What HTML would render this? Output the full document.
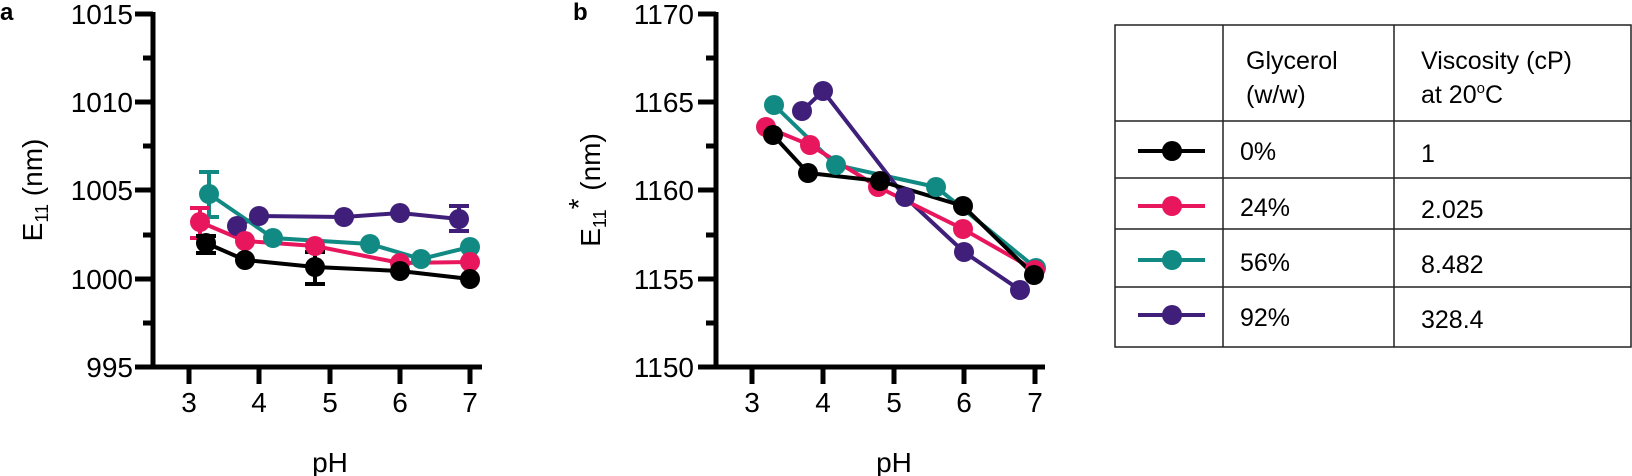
<!DOCTYPE html>
<html><head><meta charset="utf-8"><style>
html,body{margin:0;padding:0;background:#fff;}
svg{display:block;font-family:"Liberation Sans",Arial,sans-serif;}
</style></head><body>
<svg width="1632" height="476" viewBox="0 0 1632 476" xmlns="http://www.w3.org/2000/svg">
<!-- Panel a -->
<text x="0" y="20" font-size="24" font-weight="bold">a</text>
<g stroke="#000" stroke-width="5" fill="none">
<line x1="153" y1="12" x2="153" y2="369"/>
<line x1="151" y1="367" x2="482" y2="367"/>
<line x1="135" y1="14" x2="153" y2="14"/>
<line x1="143" y1="58" x2="153" y2="58"/>
<line x1="135" y1="102" x2="153" y2="102"/>
<line x1="143" y1="146" x2="153" y2="146"/>
<line x1="135" y1="190" x2="153" y2="190"/>
<line x1="143" y1="235" x2="153" y2="235"/>
<line x1="135" y1="279" x2="153" y2="279"/>
<line x1="143" y1="323" x2="153" y2="323"/>
<line x1="135" y1="367" x2="153" y2="367"/>
<line x1="189" y1="367" x2="189" y2="384"/>
<line x1="259" y1="367" x2="259" y2="384"/>
<line x1="330" y1="367" x2="330" y2="384"/>
<line x1="400" y1="367" x2="400" y2="384"/>
<line x1="470" y1="367" x2="470" y2="384"/>
</g>
<g font-size="28" text-anchor="end">
<text x="133" y="24">1015</text>
<text x="133" y="112">1010</text>
<text x="133" y="200">1005</text>
<text x="133" y="289">1000</text>
<text x="133" y="377">995</text>
</g>
<g font-size="28" text-anchor="middle">
<text x="189" y="412">3</text><text x="259" y="412">4</text><text x="330" y="412">5</text><text x="400" y="412">6</text><text x="470" y="412">7</text>
<text x="330" y="472">pH</text>
</g>
<text transform="translate(42,190) rotate(-90)" font-size="28" text-anchor="middle">E<tspan font-size="18" dy="6">11</tspan><tspan dy="-6"> (nm)</tspan></text>
<!-- error bars a -->
<g stroke-width="4" fill="none">
<path d="M209 172V217M199 172H219M199 217H219" stroke="#128a84"/>
<path d="M200 208V238M190 208H210M190 238H210" stroke="#e8175d"/>
<path d="M206 236V253M196 236H216M196 253H216" stroke="#000"/>
<path d="M315 252V284M305 252H325M305 284H325" stroke="#000"/>
<path d="M459 206V231M449 206H469M449 231H469" stroke="#3f1f7a"/>
</g>
<g stroke-width="4" fill="none">
<polyline points="237,226 259,216 344,217 400,213 459,219" stroke="#3f1f7a"/>
<polyline points="209,194 273,238 370,244 421,259 470,247" stroke="#128a84"/>
<polyline points="200,222 245,241 315,246 400,263 470,262" stroke="#e8175d"/>
<polyline points="206,243 245,260 315,267 400,271 470,279" stroke="#000"/>
</g>
<g fill="#3f1f7a"><circle cx="237" cy="226" r="10"/><circle cx="259" cy="216" r="10"/><circle cx="344" cy="217" r="10"/><circle cx="400" cy="213" r="10"/><circle cx="459" cy="219" r="10"/></g>
<g fill="#128a84"><circle cx="209" cy="194" r="10"/><circle cx="273" cy="238" r="10"/><circle cx="370" cy="244" r="10"/><circle cx="421" cy="259" r="10"/><circle cx="470" cy="247" r="10"/></g>
<g fill="#e8175d"><circle cx="200" cy="222" r="10"/><circle cx="245" cy="241" r="10"/><circle cx="315" cy="246" r="10"/><circle cx="400" cy="263" r="10"/><circle cx="470" cy="262" r="10"/></g>
<g fill="#000"><circle cx="206" cy="243" r="10"/><circle cx="245" cy="260" r="10"/><circle cx="315" cy="267" r="10"/><circle cx="400" cy="271" r="10"/><circle cx="470" cy="279" r="10"/></g>

<!-- Panel b -->
<text x="573" y="20" font-size="24" font-weight="bold">b</text>
<g stroke="#000" stroke-width="5" fill="none">
<line x1="716" y1="12" x2="716" y2="369"/>
<line x1="714" y1="367" x2="1045" y2="367"/>
<line x1="698" y1="14" x2="716" y2="14"/>
<line x1="706" y1="58" x2="716" y2="58"/>
<line x1="698" y1="102" x2="716" y2="102"/>
<line x1="706" y1="146" x2="716" y2="146"/>
<line x1="698" y1="190" x2="716" y2="190"/>
<line x1="706" y1="235" x2="716" y2="235"/>
<line x1="698" y1="279" x2="716" y2="279"/>
<line x1="706" y1="323" x2="716" y2="323"/>
<line x1="698" y1="367" x2="716" y2="367"/>
<line x1="752" y1="367" x2="752" y2="384"/>
<line x1="823" y1="367" x2="823" y2="384"/>
<line x1="894" y1="367" x2="894" y2="384"/>
<line x1="964" y1="367" x2="964" y2="384"/>
<line x1="1035" y1="367" x2="1035" y2="384"/>
</g>
<g font-size="28" text-anchor="end">
<text x="694" y="24">1170</text>
<text x="694" y="112">1165</text>
<text x="694" y="200">1160</text>
<text x="694" y="289">1155</text>
<text x="694" y="377">1150</text>
</g>
<g font-size="28" text-anchor="middle">
<text x="752" y="412">3</text><text x="823" y="412">4</text><text x="894" y="412">5</text><text x="964" y="412">6</text><text x="1035" y="412">7</text>
<text x="894" y="472">pH</text>
</g>
<text transform="translate(600,190) rotate(-90)" font-size="28" text-anchor="middle">E<tspan font-size="18" dy="6">11</tspan><tspan dy="-18">*</tspan><tspan dy="12"> (nm)</tspan></text>
<g stroke-width="4" fill="none">
<polyline points="774,105 836,165 936,187 1036,268" stroke="#128a84"/>
<polyline points="802,111 823,91 905,197 964,252 1020,290" stroke="#3f1f7a"/>
<polyline points="766,127 810,145 878,187 963,229 1035,270" stroke="#e8175d"/>
<polyline points="773,135 808,173 880,181 963,206 1034,275" stroke="#000"/>
</g>
<g fill="#128a84"><circle cx="774" cy="105" r="10"/><circle cx="836" cy="165" r="10"/><circle cx="936" cy="187" r="10"/><circle cx="1036" cy="268" r="10"/></g>
<g fill="#3f1f7a"><circle cx="802" cy="111" r="10"/><circle cx="823" cy="91" r="10"/><circle cx="905" cy="197" r="10"/><circle cx="964" cy="252" r="10"/><circle cx="1020" cy="290" r="10"/></g>
<g fill="#e8175d"><circle cx="766" cy="127" r="10"/><circle cx="810" cy="145" r="10"/><circle cx="878" cy="187" r="10"/><circle cx="963" cy="229" r="10"/><circle cx="1035" cy="270" r="10"/></g>
<g fill="#000"><circle cx="773" cy="135" r="10"/><circle cx="808" cy="173" r="10"/><circle cx="880" cy="181" r="10"/><circle cx="963" cy="206" r="10"/><circle cx="1034" cy="275" r="10"/></g>

<!-- Table -->
<g stroke="#222" stroke-width="1.5" fill="none">
<rect x="1115" y="25" width="516" height="322"/>
<line x1="1223" y1="25" x2="1223" y2="347"/>
<line x1="1394" y1="25" x2="1394" y2="347"/>
<line x1="1115" y1="121" x2="1631" y2="121"/>
<line x1="1115" y1="178" x2="1631" y2="178"/>
<line x1="1115" y1="229" x2="1631" y2="229"/>
<line x1="1115" y1="287" x2="1631" y2="287"/>
</g>
<g font-size="25">
<text x="1246" y="69">Glycerol</text>
<text x="1246" y="103">(w/w)</text>
<text x="1421" y="69">Viscosity (cP)</text>
<text x="1421" y="103">at 20<tspan font-size="15" dy="-10">o</tspan><tspan dy="10">C</tspan></text>
<text x="1240" y="160">0%</text>
<text x="1240" y="216">24%</text>
<text x="1240" y="271">56%</text>
<text x="1240" y="326">92%</text>
<text x="1421" y="162">1</text>
<text x="1421" y="218">2.025</text>
<text x="1421" y="273">8.482</text>
<text x="1421" y="328">328.4</text>
</g>
<g stroke-width="4">
<line x1="1138" y1="151" x2="1205" y2="151" stroke="#000"/>
<line x1="1138" y1="206" x2="1205" y2="206" stroke="#e8175d"/>
<line x1="1138" y1="260" x2="1205" y2="260" stroke="#128a84"/>
<line x1="1138" y1="315" x2="1205" y2="315" stroke="#3f1f7a"/>
</g>
<circle cx="1172" cy="151" r="10" fill="#000"/>
<circle cx="1172" cy="206" r="10" fill="#e8175d"/>
<circle cx="1172" cy="260" r="10" fill="#128a84"/>
<circle cx="1172" cy="315" r="10" fill="#3f1f7a"/>
</svg>
</body></html>
